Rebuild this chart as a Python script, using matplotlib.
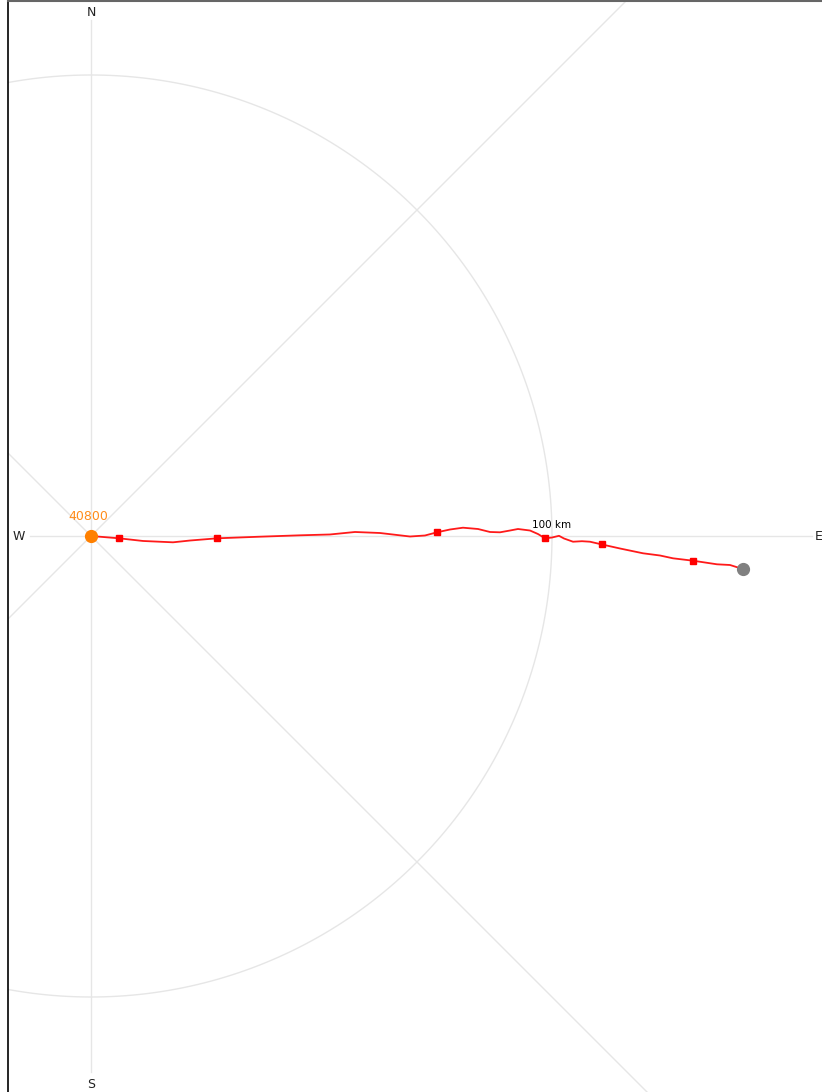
import numpy as np
import matplotlib
matplotlib.use("Agg")
import matplotlib.pyplot as plt

# track in km east / north of the start point
track_x = [0.0, 6.07, 11.28, 17.79, 21.48, 27.40, 36.66, 45.34, 51.84, 57.27,
           62.69, 69.20, 72.45, 75.05, 77.87, 80.69, 83.95, 86.55, 88.72, 90.89,
           92.62, 95.23, 96.96, 98.48, 100.0, 101.52, 102.6, 104.56, 106.5, 108.24,
           110.85, 114.75, 119.74, 123.43, 126.25, 130.59, 133.19, 135.79, 138.61, 141.37]
track_y = [0.0, -0.50, -1.08, -1.37, -0.98, -0.50, -0.15, 0.15, 0.33, 0.87,
           0.65, -0.11, 0.11, 0.80, 1.41, 1.80, 1.52, 0.87, 0.80, 1.19,
           1.52, 1.19, 0.43, -0.50, -0.33, 0.04, -0.54, -1.24, -1.13, -1.24,
           -1.84, -2.71, -3.75, -4.23, -4.84, -5.36, -5.75, -6.14, -6.29, -7.16]
marker_idx = [1, 5, 13, 23, 30, 35]   # points carrying a square marker
start_label = "40800"
ring_km = 100
compass = ["N", "E", "S", "W"]

W, H = 822, 1092
px_per_km = 4.61
cx, cy = 91, 536          # centre in pixels (from top-left)
left_px, top_px = 8, 1

fig = plt.figure(figsize=(W / 100, H / 100), dpi=100)
ax = fig.add_axes([left_px / W, 0, (W - left_px) / W, (H - top_px) / H])
ax.set_xlim((left_px - cx) / px_per_km, (W - cx) / px_per_km)
ax.set_ylim(-(H - cy) / px_per_km, (cy - top_px) / px_per_km)
ax.set_xticks([])
ax.set_yticks([])
for s in ("right", "bottom"):
    ax.spines[s].set_visible(False)
ax.spines["left"].set_color("black")
ax.spines["left"].set_linewidth(1.2)
ax.spines["top"].set_color("#666666")
ax.spines["top"].set_linewidth(1.5)

grid = "#e6e6e6"
# range ring
t = np.linspace(0, 2 * np.pi, 400)
ax.plot(ring_km * np.cos(t), ring_km * np.sin(t), color=grid, lw=1.0, zorder=1)
# compass axes
ax.plot([0, 0], [-116.3, 112.0], color=grid, lw=1.0, zorder=1)
ax.plot([-13.2, 156.4], [0, 0], color=grid, lw=1.0, zorder=1)
d = 300
ax.plot([-d, d], [-d, d], color=grid, lw=1.0, zorder=1)
ax.plot([-d, d], [d, -d], color=grid, lw=1.0, zorder=1)

lab = dict(fontsize=9, color="#222222", ha="center", va="center")
ax.text(0, 113.5, compass[0], **lab)
ax.text(157.0, 0, compass[1], ha="left", va="center", fontsize=9, color="#222222")
ax.text(0, -118.9, compass[2], **lab)
ax.text(-15.6, 0, compass[3], **lab)
ax.text(ring_km, 2.3, f"{ring_km} km", fontsize=7.5, color="black",
        ha="center", va="center")

# track
ax.plot(track_x, track_y, color="#ff1a1a", lw=1.3, zorder=3)
ax.plot([track_x[i] for i in marker_idx], [track_y[i] for i in marker_idx],
        "s", color="#ff0000", ms=4.5, zorder=4)
ax.plot(track_x[0], track_y[0], "o", color="#ff8000", ms=8.5, zorder=5)
ax.plot(track_x[-1], track_y[-1], "o", color="#808080", ms=8.5, zorder=5)
ax.text(track_x[0] - 0.6, track_y[0] + 4.3, start_label, fontsize=9,
        color="#ff8c1a", ha="center", va="center")

fig.savefig("out.png", dpi=100)
